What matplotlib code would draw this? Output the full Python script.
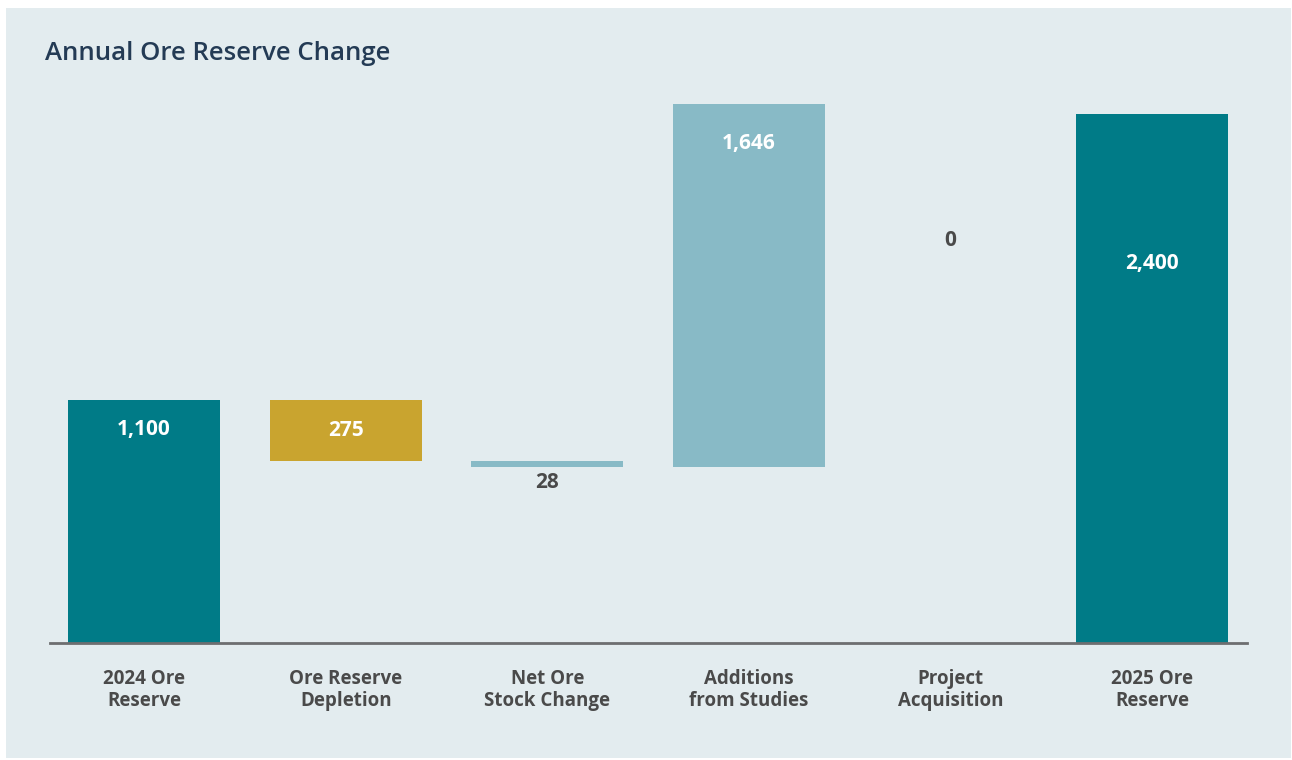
import matplotlib.pyplot as plt
from matplotlib.patches import Rectangle

# waterfall of ore reserve movements (kt)
categories = ['2024 Ore\nReserve', 'Ore Reserve\nDepletion', 'Net Ore\nStock Change',
              'Additions\nfrom Studies', 'Project\nAcquisition', '2025 Ore\nReserve']
changes = [1100, -275, -28, 1646, 0, 2400]
value_labels = ['1,100', '275', '28', '1,646', '0', '2,400']
kinds = ['total', 'down', 'down', 'up', 'up', 'total']

teal = '#007b87'
gold = '#c9a42f'
light = '#88bac6'
bg = '#e3ecef'
grey = '#4a4a4a'

plt.rcParams['font.family'] = ['Open Sans', 'DejaVu Sans']

fig = plt.figure(figsize=(12.92, 7.6), dpi=100)
fig.patch.set_facecolor('white')
fig.patches.append(Rectangle((6 / 1292, 2 / 760), 1285 / 1292, 750 / 760,
                             transform=fig.transFigure, facecolor=bg,
                             edgecolor='none', zorder=-1))

ax = fig.add_axes([50 / 1292, 117 / 760, 1197 / 1292, 560 / 760])
ax.set_facecolor('none')

# running level for the floating bars
bottoms, heights, colors = [], [], []
level = 0
for ch, kind in zip(changes, kinds):
    if kind == 'total':
        bottoms.append(0)
        heights.append(ch)
        colors.append(teal)
        level = ch
    elif kind == 'down':
        bottoms.append(level + ch)
        heights.append(-ch)
        colors.append(gold if ch < -100 else light)
        level += ch
    else:
        bottoms.append(level)
        heights.append(ch)
        colors.append(light)
        level += ch

x = list(range(len(categories)))
ax.bar(x, heights, bottom=bottoms, width=0.755, color=colors, zorder=2)

# value labels
lab_kw = dict(ha='center', va='center', fontsize=15, fontweight='bold')
for i, (b, h, lab) in enumerate(zip(bottoms, heights, value_labels)):
    top = b + h
    if i == 1:
        ax.text(i, b + h / 2, lab, color='white', **lab_kw)
    elif i == 2:
        ax.annotate(lab, (i, b), xytext=(0, -11), textcoords='offset points',
                    color=grey, **lab_kw)
    elif i == 4:
        ax.annotate(lab, (i, top), xytext=(0, -98), textcoords='offset points',
                    color=grey, **lab_kw)
    elif i == 5:
        ax.annotate(lab, (i, top), xytext=(0, -108), textcoords='offset points',
                    color='white', **lab_kw)
    elif i == 3:
        ax.annotate(lab, (i, top), xytext=(0, -28), textcoords='offset points',
                    color='white', **lab_kw)
    else:
        ax.annotate(lab, (i, top), xytext=(0, -21), textcoords='offset points',
                    color='white', **lab_kw)

ax.set_xlim(-0.467, 5.47)
ax.set_ylim(0, 2540)
ax.set_xticks(x)
ax.set_xticklabels(categories, fontsize=13.5, fontweight='bold', color=grey,
                   linespacing=1.1)
ax.tick_params(axis='x', length=0, pad=19)
ax.set_yticks([])
for side in ['top', 'right', 'left']:
    ax.spines[side].set_visible(False)
ax.spines['bottom'].set_color('#6d6e70')
ax.spines['bottom'].set_linewidth(2)

fig.text(45 / 1292, 1 - 54 / 760, 'Annual Ore Reserve Change', ha='left', va='center',
         fontsize=18.5, fontweight='semibold', color='#243b55')

fig.savefig('out.png', dpi=100, facecolor=fig.get_facecolor())
